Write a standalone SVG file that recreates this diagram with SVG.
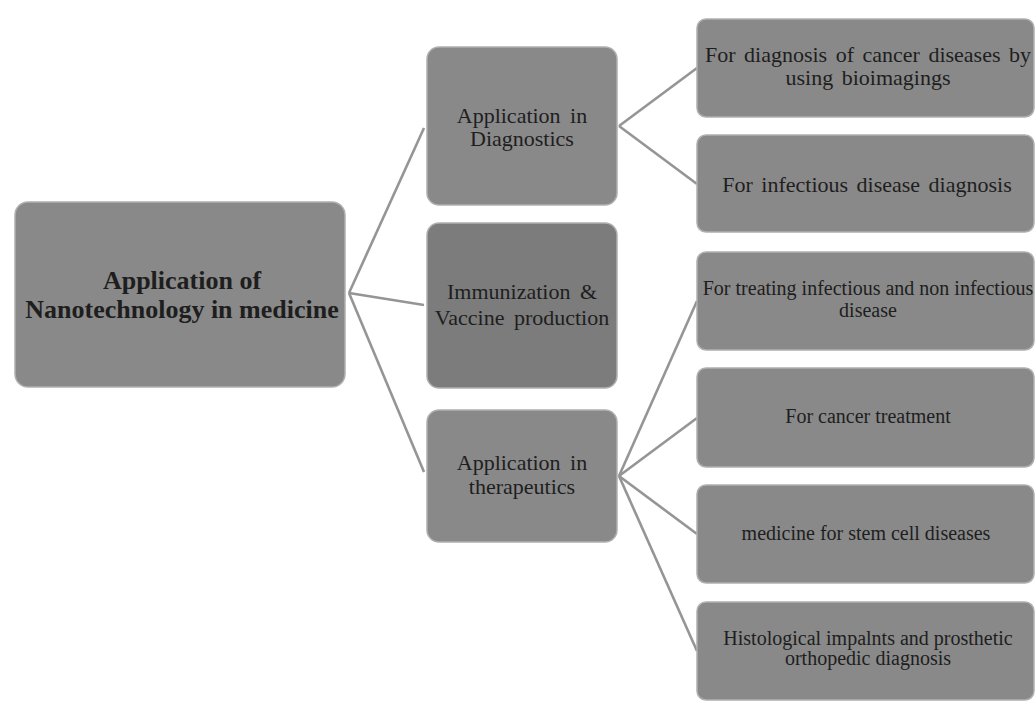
<svg xmlns="http://www.w3.org/2000/svg" width="1035" height="701" viewBox="0 0 1035 701">
  <style>
    .box { fill: #898989; stroke: #b0b0b0; stroke-width: 1.5; }
    .dark { fill: #7c7c7c; }
    .link { stroke: #959595; stroke-width: 2.6; fill: none; }
    text { fill: #1e1e1e; text-anchor: middle; }
    .root { font-size: 26px; font-weight: bold; }
    .mid { font-size: 22px; word-spacing: 4px; }
    .big { font-size: 22px; word-spacing: 3px; }
    .small { font-size: 20px; }
  </style>
  <rect width="1035" height="701" fill="#ffffff"/>

  <!-- connectors -->
  <g id="connectors">
    <line class="link" x1="349" y1="293" x2="424" y2="128"/>
    <line class="link" x1="349" y1="293" x2="424" y2="305"/>
    <line class="link" x1="349" y1="293" x2="424" y2="472"/>
    <line class="link" x1="619" y1="126" x2="697" y2="68"/>
    <line class="link" x1="619" y1="126" x2="697" y2="184"/>
    <line class="link" x1="619" y1="476" x2="697" y2="301"/>
    <line class="link" x1="619" y1="476" x2="697" y2="418"/>
    <line class="link" x1="619" y1="476" x2="697" y2="534"/>
    <line class="link" x1="619" y1="476" x2="697" y2="651"/>
  </g>

  <g font-family="'Liberation Serif', 'Times New Roman', Times, serif">
  <!-- root -->
  <g id="root">
    <rect class="box" x="15" y="202" width="330" height="185" rx="13"/>
    <text class="root" x="182" y="289">Application of</text>
    <text class="root" x="182" y="318">Nanotechnology in medicine</text>
  </g>

  <!-- second level -->
  <g id="diagnostics">
    <rect class="box" x="427" y="47" width="190" height="158" rx="12"/>
    <text class="mid" x="522" y="123">Application in</text>
    <text class="mid" x="522" y="146">Diagnostics</text>
  </g>
  <g id="immunization">
    <rect class="box dark" x="427" y="223" width="190" height="165" rx="12"/>
    <text class="mid" x="522" y="299">Immunization &amp;</text>
    <text class="mid" x="522" y="325">Vaccine production</text>
  </g>
  <g id="therapeutics">
    <rect class="box" x="427" y="410" width="190" height="132" rx="12"/>
    <text class="mid" x="522" y="470">Application in</text>
    <text class="mid" x="522" y="494">therapeutics</text>
  </g>

  <!-- third level -->
  <g id="cancer-diagnosis">
    <rect class="box" x="697" y="19" width="337" height="98" rx="9"/>
    <text class="big" x="868" y="62">For diagnosis of cancer diseases by</text>
    <text class="big" x="868" y="85">using bioimagings</text>
  </g>
  <g id="infectious-diagnosis">
    <rect class="box" x="697" y="135" width="337" height="97" rx="9"/>
    <text class="big" x="867" y="192">For infectious disease diagnosis</text>
  </g>
  <g id="treating-infectious">
    <rect class="box" x="697" y="252" width="337" height="98" rx="9"/>
    <text class="small" x="868" y="295">For treating infectious and non infectious</text>
    <text class="small" x="868" y="317">disease</text>
  </g>
  <g id="cancer-treatment">
    <rect class="box" x="697" y="368" width="337" height="99" rx="9"/>
    <text class="small" x="868" y="423">For cancer treatment</text>
  </g>
  <g id="stem-cell">
    <rect class="box" x="697" y="485" width="337" height="98" rx="9"/>
    <text class="small" x="866" y="540">medicine for stem cell diseases</text>
  </g>
  <g id="implants">
    <rect class="box" x="697" y="602" width="337" height="98" rx="9"/>
    <text class="small" x="868" y="645">Histological impalnts and prosthetic</text>
    <text class="small" x="868" y="665">orthopedic diagnosis</text>
  </g>
  </g>
</svg>
